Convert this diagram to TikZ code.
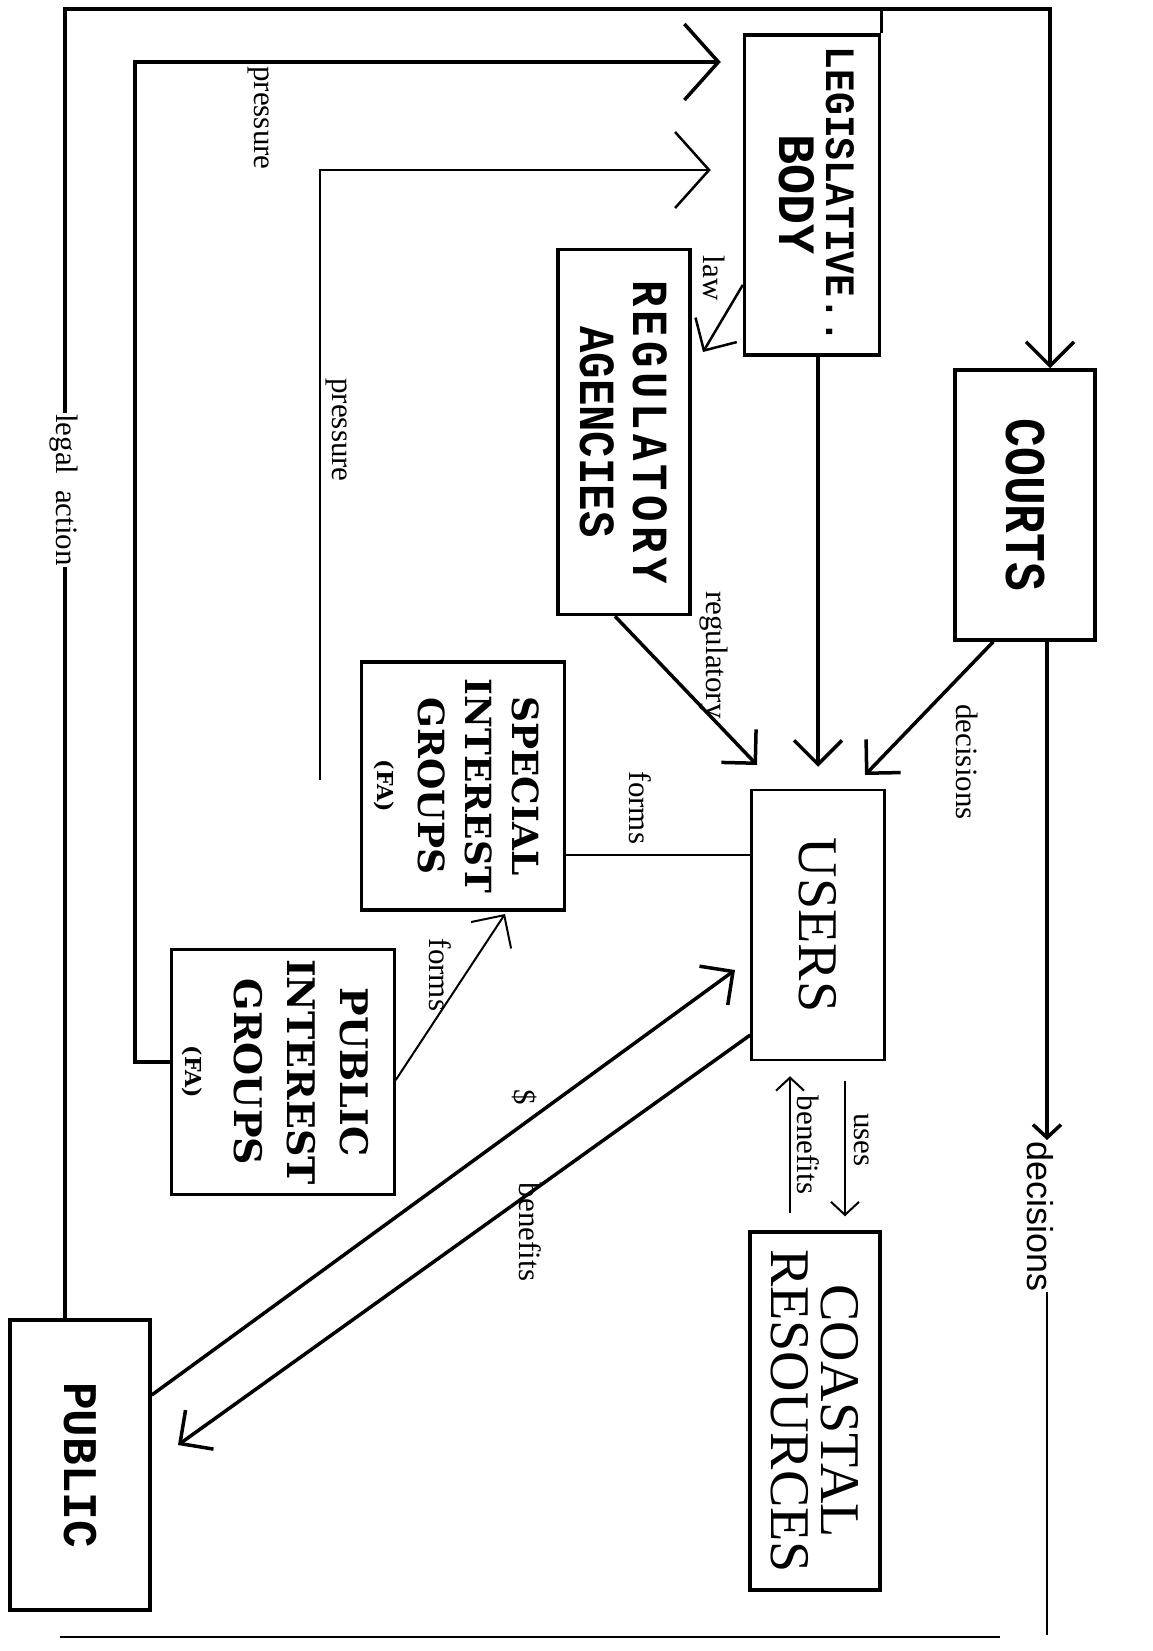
\documentclass[tikz,border=0pt]{standalone}
\usepackage{fontspec}
\setmainfont{Liberation Serif}
\newfontfamily\courierb{Liberation Mono}
\newfontfamily\schoolb{DejaVu Serif}
\newfontfamily\narrowsans{Liberation Sans}
\usetikzlibrary{arrows.meta}

\tikzset{
  box/.style={draw, line width=3.5pt, inner sep=0pt},
  thinbox/.style={draw, line width=2.5pt, inner sep=0pt},
  wire/.style={line width=3.5pt},
  midwire/.style={line width=2.5pt},
  thinwire/.style={line width=2pt},
  bigtip/.style={-{Straight Barb[length=34pt,width=76pt]}},
  tip/.style={-{Straight Barb[length=24pt,width=48pt]}},
  smalltip/.style={-{Straight Barb[length=13pt,width=28pt]}},
  lbl/.style={rotate=-90, inner sep=1pt, font=\fontsize{31}{31}\selectfont},
  monotext/.style 2 args={rotate=-90, align=center, font=\courierb\bfseries\fontsize{#1}{#2}\selectfont},
  schooltext/.style 2 args={rotate=-90, align=center, font=\schoolb\bfseries\fontsize{#1}{#2}\selectfont},
  timestext/.style 2 args={rotate=-90, align=center, font=\fontsize{#1}{#2}\selectfont}
}

\begin{document}
\begin{tikzpicture}[x=1pt, y=-1pt]
\fill[white] (0,0) rectangle (1153,1651);
\useasboundingbox (0,0) rectangle (1153,1651);

% boxes
\node[box, minimum width=135pt, minimum height=320pt] (leg) at (812,195) {};
\node[box, minimum width=132pt, minimum height=365pt] (reg) at (624,432) {};
\node[box, minimum width=140pt, minimum height=270pt] (courts) at (1025,505) {};
\node[box, minimum width=203pt, minimum height=248pt] (sig) at (463,786) {};
\node[thinbox, minimum width=133pt, minimum height=270pt] (users) at (818,925) {};
\node[thinbox, minimum width=223pt, minimum height=245pt] (pig) at (283,1072) {};
\node[box, minimum width=140pt, minimum height=290pt] (public) at (80,1465) {};
\node[box, minimum width=130pt, minimum height=358pt] (coastal) at (815,1411) {};

% box texts
\node[monotext={38}{38}, yscale=1.1] at ([xshift=28pt]leg.center) {LEGISLATIVE..};
\node[monotext={50}{50}, yscale=1.05] at ([xshift=-15pt]leg.center) {BODY};
\node[monotext={44}{46}, yscale=1.15] at (reg) {\addfontfeature{LetterSpace=10}REGULATORY\\AGENCIES};
\node[monotext={48}{48}, yscale=1.2] at (courts) {COURTS};
\node[monotext={46}{46}, yscale=1.05] at (public) {PUBLIC};
\node[schooltext={36}{47}] at ([xshift=-6pt]sig.center) {SPECIAL\\INTEREST\\GROUPS\\[-6pt]{\fontsize{22}{22}\selectfont(FA)}};
\node[schooltext={38}{53}] at ([xshift=-8pt]pig.center) {PUBLIC\\INTEREST\\GROUPS\\[-4pt]{\fontsize{22}{22}\selectfont(FA)}};
\node[timestext={56}{56}] at (users) {USERS};
\node[timestext={56}{50}] at (coastal) {COASTAL\\RESOURCES};

% legal action
\coordinate (tl) at (65,9);
\coordinate (tr) at (1050,9);
\draw[wire, tip] (public.north -| tl) -- (tl) -- (tr) -- (courts.north -| tr);
\draw[wire] (leg.north east) -- (leg.north east |- tl);
\node[lbl, fill=white] at (64,490) {legal\ \ action};

% pressure
\draw[wire, bigtip, shorten >=22pt] (pig.west |- 0,1062) -| (135,62) -- (leg.west |- 0,62);
\node[lbl] at (258,118) {pressure};
\coordinate (p2) at (320,780);
\draw[midwire, bigtip, shorten >=32pt] (p2) |- (leg.west |- 0,170);
\node[lbl] at (336,430) {pressure};

% law and regulation
\coordinate (lawtip) at (703,352);
\draw[midwire, tip] (leg.west |- 0,285) -- (lawtip);
\node[lbl] at (714,278) {law};
\coordinate (regtip) at (757,765);
\draw[wire, tip] ([xshift=-9pt]reg.south) -- (regtip);
\node[lbl] at (714,655) {regulatory};
\draw[wire, tip, shorten >=22pt] (users.north |- leg.south) -- (users.north);

% decisions
\coordinate (dectip) at (865,775);
\draw[wire, tip] ([xshift=40pt]courts.south west) -- (dectip);
\node[lbl] at (967,762) {decisions};
\coordinate (decarrow) at (1047,1140);
\coordinate (decend) at (1047,1635);
\draw[wire, smalltip] (courts.south -| decarrow) -- (decarrow);
\node[lbl, anchor=west, font=\narrowsans\fontsize{36}{36}\selectfont] (declbl) at (1040,1140) {decisions};
\draw[midwire] (declbl.east -| decend) -- (decend);

% forms
\draw[thinwire] (sig.east |- 0,855) -- (users.west |- 0,855);
\node[lbl] at (640,808) {forms};
\coordinate (formstip) at (505,914);
\draw[thinwire, tip] (pig.east |- 0,1080) -- (formstip);
\node[lbl] at (440,975) {forms};

% money and benefits
\coordinate (paytip) at (735,970);
\draw[wire, tip] (public.east |- 0,1395) -- (paytip);
\node[lbl] at (525,1097) {\$};
\coordinate (bentip) at (178,1445);
\draw[wire, tip] (users.west |- 0,1035) -- (bentip);
\node[lbl] at (530,1232) {benefits};

% uses
\draw[thinwire, smalltip, shorten <=20pt, shorten >=14pt] (users.south -| 845,0) -- (coastal.north -| 845,0);
\node[lbl] at (862,1140) {uses};
\draw[thinwire, smalltip, shorten <=17pt, shorten >=15pt] (coastal.north -| 790,0) -- (users.south -| 790,0);
\node[lbl] at (808,1145) {benefits};

\draw[thinwire] (60,1637) -- (1000,1637);
\end{tikzpicture}
\end{document}
